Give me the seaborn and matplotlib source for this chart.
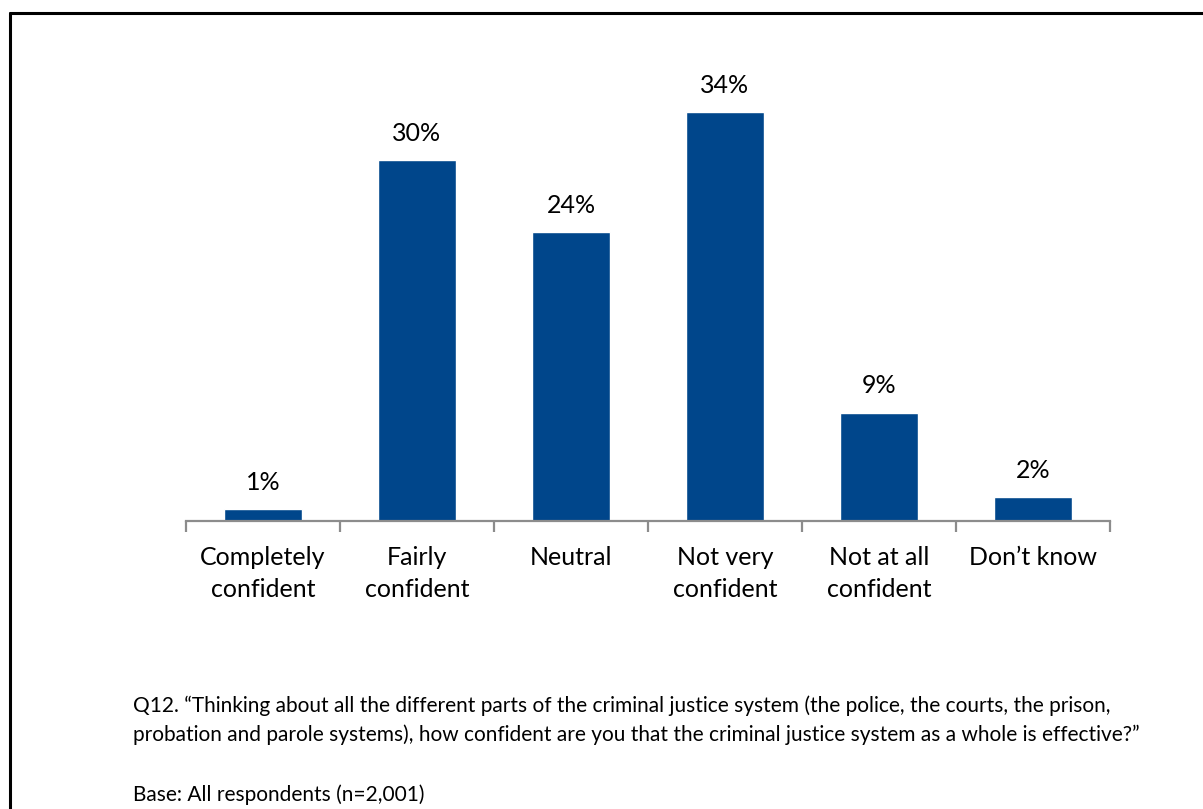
import matplotlib
matplotlib.use("Agg")
import matplotlib.pyplot as plt
from matplotlib.lines import Line2D
import seaborn as sns
import pandas as pd
import numpy as np

categories = ["Completely\nconfident", "Fairly\nconfident", "Neutral",
              "Not very\nconfident", "Not at all\nconfident", "Don\u2019t know"]
values = [1, 30, 24, 34, 9, 2]

question = ("Q12. \u201cThinking about all the different parts of the criminal justice system (the police, the courts, the prison,\n"
            "probation and parole systems), how confident are you that the criminal justice system as a whole is effective?\u201d")
base_note = "Base: All respondents (n=2,001)"

sns.set_theme(style="white")
plt.rcParams["font.family"] = ["Lato", "DejaVu Sans"]

W, H = 1203, 809
fig = plt.figure(figsize=(W / 100, H / 100), dpi=100)
fig.patch.set_facecolor("white")

# axes placed in pixel terms: baseline at y=521, x span 186..1110
left, right, base, top = 186, 1110, 521, 60
ax = fig.add_axes([left / W, (H - base) / H, (right - left) / W, (base - top) / H])

df = pd.DataFrame({"cat": categories, "val": values})
sns.barplot(data=df, x="cat", y="val", color="#00468B", width=0.505,
            saturation=1, ax=ax)

ax.set_xlim(-0.5, len(categories) - 0.5)
ax.set_ylim(0, (base - top) / 12.03)
ax.set_xlabel("")
ax.set_ylabel("")
ax.set_yticks([])

for s in ["top", "right", "left"]:
    ax.spines[s].set_visible(False)
ax.spines["bottom"].set_color("#8C8C8C")
ax.spines["bottom"].set_linewidth(1.6)

ax.set_xticks(range(len(categories)))
ax.set_xticklabels(categories, fontsize=18, color="black", linespacing=1.45)
ax.tick_params(axis="x", which="major", length=0, pad=18)
ax.set_xticks(np.arange(-0.5, len(categories), 1), minor=True)
ax.tick_params(axis="x", which="minor", length=8, width=1.6, color="#8C8C8C",
               direction="out", bottom=True)

ax.bar_label(ax.containers[0], labels=[f"{v}%" for v in values],
             padding=11, fontsize=18, color="black")

# caption text
fig.text(133 / W, 1 - 720 / H, question, fontsize=15, color="black",
         ha="left", va="center", linespacing=1.5)
fig.text(133 / W, 1 - 795 / H, base_note, fontsize=15, color="black",
         ha="left", va="center")

# frame lines on top and left edges
fig.add_artist(Line2D([10 / W, 10 / W], [0, 1 - 13 / H], transform=fig.transFigure,
                      color="black", linewidth=2.2))
fig.add_artist(Line2D([10 / W, 1], [1 - 13 / H, 1 - 13 / H], transform=fig.transFigure,
                      color="black", linewidth=2.2))

fig.savefig("out.png", dpi=100, facecolor="white")
